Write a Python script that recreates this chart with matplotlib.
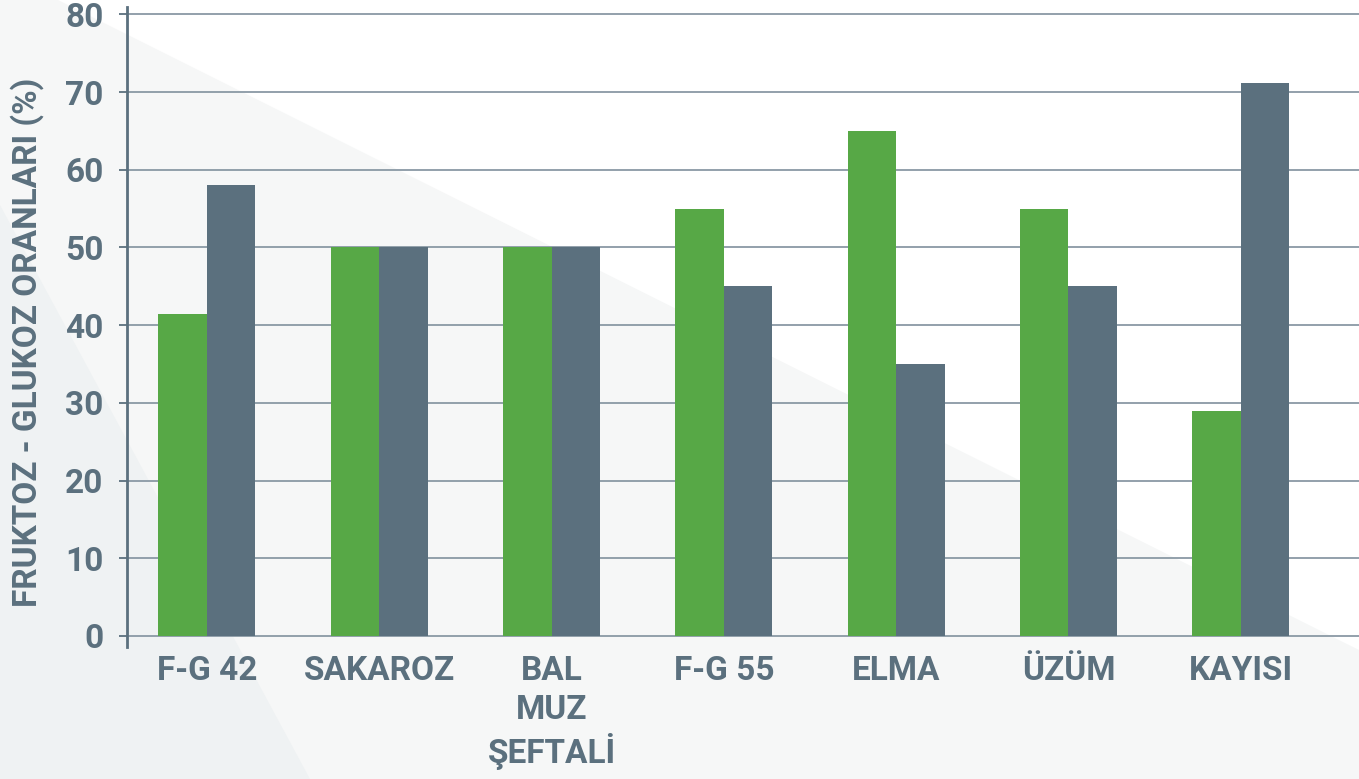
import matplotlib.pyplot as plt
import numpy as np
from matplotlib.patches import Polygon

# Data
categories = ['F-G 42', 'SAKAROZ', 'BAL\nMUZ\nŞEFTALİ', 'F-G 55', 'ELMA', 'ÜZÜM', 'KAYISI']
fruktoz = [41.5, 50, 50, 55, 65, 55, 29]
glukoz = [58, 50, 50, 45, 35, 45, 71.2]
yticks = [0, 10, 20, 30, 40, 50, 60, 70, 80]

green = '#57a846'
slate = '#5b707e'
grid_c = '#8a99a5'
fonts = ['Liberation Sans Narrow', 'Roboto', 'DejaVu Sans']

W, H = 1359, 779
fig = plt.figure(figsize=(W / 100, H / 100), dpi=100)
fig.patch.set_facecolor('white')

# background shading (pixel coords -> figure fraction)
def px(pts):
    return [(x / W, 1 - y / H) for x, y in pts]

fig.patches.append(Polygon(px([(0, 0), (58, 0), (W, 650), (W, H), (0, H)]),
                           closed=True, transform=fig.transFigure,
                           facecolor='#f6f7f7', edgecolor='none', zorder=-2))
fig.patches.append(Polygon(px([(0, 205), (310, H), (0, H)]),
                           closed=True, transform=fig.transFigure,
                           facecolor='#eff2f3', edgecolor='none', zorder=-1))

ax = fig.add_axes([127 / W, (H - 647) / H, 1 - 127 / W, 640 / H])
ax.set_facecolor('none')

x = np.arange(len(categories))
w = 0.2815
for v in yticks:
    ax.axhline(v, color=grid_c, lw=1.3, zorder=1)
ax.bar(x - w / 2, fruktoz, w, color=green, zorder=2)
ax.bar(x + w / 2, glukoz, w, color=slate, zorder=2)

ax.set_xlim(-0.464, 6.686)
ax.set_ylim(-1.42, 80.95)
ax.set_yticks(yticks)
ax.set_xticks(x)
ax.set_xticklabels(categories, linespacing=1.25)

for s in ['top', 'right', 'bottom']:
    ax.spines[s].set_visible(False)
ax.spines['left'].set_color(slate)
ax.spines['left'].set_linewidth(2)

ax.tick_params(axis='y', length=6, width=1.3, color=slate, pad=11,
               labelsize=24, labelcolor=slate)
ax.tick_params(axis='x', length=0, pad=6, labelsize=24, labelcolor=slate)
for lab in ax.get_xticklabels() + ax.get_yticklabels():
    lab.set_fontfamily(fonts)
    lab.set_fontweight('bold')

fig.text(27 / W, 1 - 342 / H, 'FRUKTOZ - GLUKOZ ORANLARI (%)', rotation=90,
         ha='center', va='center', fontsize=24, fontweight='bold',
         color=slate, family=fonts)

fig.savefig('out.png', dpi=100)
